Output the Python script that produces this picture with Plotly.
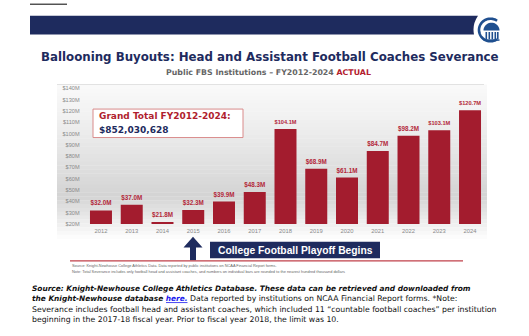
import plotly.graph_objects as go
import math

# ---- data ----
years = ["2012", "2013", "2014", "2015", "2016", "2017", "2018",
         "2019", "2020", "2021", "2022", "2023", "2024"]
severance_musd = [32.0, 37.0, 21.8, 32.3, 39.9, 48.3, 104.1,
                  68.9, 61.1, 84.7, 98.2, 103.1, 120.7]
y_tick_vals = [20, 30, 40, 50, 60, 70, 80, 90, 100, 110, 120, 130, 140]
y_tick_text = ["$20M", "$30M", "$40M", "$50M", "$60M", "$70M", "$80M",
               "$90M", "$100M", "$110M", "$120M", "$130M", "$140M"]
grand_total = "$852,030,628"

W, H = 529, 336
NAVY = "#1e2b5e"
RED = "#a31c2e"


def X(px):
    return px / W


def Y(py):
    return 1 - py / H


fig = go.Figure()
fig.add_trace(go.Bar(
    x=years, y=severance_musd,
    marker=dict(color=RED, line=dict(width=0)),
    texttemplate="$%{y:.1f}M", textposition="outside",
    textfont=dict(family="Liberation Sans", size=6.3, color="#b3283a", weight="bold"),
    cliponaxis=False, hoverinfo="skip",
))

shapes = []
annotations = []

# top-left underline fragment
shapes.append(dict(type="line", xref="paper", yref="paper", x0=X(30), x1=X(67), y0=Y(1.2), y1=Y(1.2),
                   line=dict(color="black", width=1)))

# banner
shapes.append(dict(type="path", xref="paper", yref="paper",
                   path=f"M {X(30)} {Y(13)} L {X(478)} {Y(13)} Q {X(472)} {Y(22)} {X(474)} {Y(32)} L {X(30)} {Y(32)} Z",
                   fillcolor=NAVY, line=dict(width=0)))

# logo
LOGO = "#1f4f8f"
cx, cy, r = 490.5, 27.5, 11.5
pts = []
for k in range(0, 41):
    a = math.radians(55 + k * 250 / 40)
    pts.append((cx + r * math.cos(a), cy - r * math.sin(a)))
arc = "M " + " L ".join(f"{X(p[0])} {Y(p[1])}" for p in pts)
shapes.append(dict(type="path", xref="paper", yref="paper", path=arc,
                   line=dict(color=LOGO, width=2.6)))
# dome
dpts = []
for k in range(0, 21):
    a = math.radians(k * 180 / 20)
    dpts.append((cx + 1 + 8 * math.cos(a), cy - 8 * math.sin(a) + 0.5))
dome = "M " + " L ".join(f"{X(p[0])} {Y(p[1])}" for p in dpts) + " Z"
shapes.append(dict(type="path", xref="paper", yref="paper", path=dome,
                   fillcolor=LOGO, line=dict(width=0)))
for cxp in [485.5, 488.5, 491.5, 494.5, 497.0]:
    shapes.append(dict(type="rect", xref="paper", yref="paper", x0=X(cxp), x1=X(cxp + 1.6),
                       y0=Y(37), y1=Y(29.5), fillcolor=LOGO, line=dict(width=0)))
shapes.append(dict(type="rect", xref="paper", yref="paper", x0=X(483.5), x1=X(499.5),
                   y0=Y(38.5), y1=Y(37), fillcolor=LOGO, line=dict(width=0)))

# chart background gradient
top, bot, nstr = 83, 240, 40
for i in range(nstr):
    y0 = top + (bot - top) * i / nstr
    y1 = top + (bot - top) * (i + 1) / nstr
    t = (i + 0.5) / nstr
    if t < 0.72:
        g = 250 - 38 * (t / 0.72) ** 1.2
    else:
        g = 212 + 42 * ((t - 0.72) / 0.28)
    g = int(min(255, g))
    shapes.append(dict(type="rect", xref="paper", yref="paper", layer="below",
                       x0=X(57), x1=X(487), y0=Y(y1 + 0.3), y1=Y(y0),
                       fillcolor=f"rgb({g},{g},{g})", line=dict(width=0)))
shapes.append(dict(type="line", xref="paper", yref="paper", layer="below",
                   x0=X(57), x1=X(484), y0=Y(83), y1=Y(83), line=dict(color="#e2e2e2", width=1)))

# grand total box
shapes.append(dict(type="rect", xref="paper", yref="paper", x0=X(93), x1=X(243), y0=Y(137), y1=Y(108),
                   fillcolor="white", line=dict(color="#d98a8a", width=1)))
annotations.append(dict(xref="paper", yref="paper", x=X(97), y=Y(115.5), xanchor="left", yanchor="middle",
                        text="Grand Total FY2012-2024:", showarrow=False,
                        font=dict(family="DejaVu Sans", size=9, color="#b01e2e", weight="bold")))
annotations.append(dict(xref="paper", yref="paper", x=X(97), y=Y(129), xanchor="left", yanchor="middle",
                        text=grand_total, showarrow=False,
                        font=dict(family="DejaVu Sans", size=9, color=NAVY, weight="bold")))

# titles
annotations.append(dict(xref="paper", yref="paper", x=X(270), y=Y(54.5), xanchor="center", yanchor="middle",
                        text="Ballooning Buyouts: Head and Assistant Football Coaches Severance", showarrow=False,
                        font=dict(family="DejaVu Sans", size=11.8, color=NAVY, weight="bold")))
annotations.append(dict(xref="paper", yref="paper", x=X(268.5), y=Y(70.5), xanchor="center", yanchor="middle",
                        text="Public FBS Institutions – FY2012-2024 <span style='color:#b3202e'>ACTUAL</span>",
                        showarrow=False,
                        font=dict(family="DejaVu Sans", size=7.85, color="#666666", weight="bold")))

# playoff arrow + box
shapes.append(dict(type="path", xref="paper", yref="paper",
                   path=(f"M {X(193)} {Y(238)} L {X(202.5)} {Y(249)} L {X(196)} {Y(249)} L {X(196)} {Y(262)} "
                         f"L {X(190)} {Y(262)} L {X(190)} {Y(249)} L {X(183.5)} {Y(249)} Z"),
                   fillcolor=NAVY, line=dict(width=0)))
shapes.append(dict(type="rect", xref="paper", yref="paper", x0=X(210), x1=X(380), y0=Y(260), y1=Y(243),
                   fillcolor=NAVY, line=dict(width=0)))
annotations.append(dict(xref="paper", yref="paper", x=X(295), y=Y(251.5), xanchor="center", yanchor="middle",
                        text="College Football Playoff Begins", showarrow=False,
                        font=dict(family="Liberation Sans", size=10.3, color="white", weight="bold")))
shapes.append(dict(type="line", xref="paper", yref="paper", x0=X(70), x1=X(463), y0=Y(262.5), y1=Y(262.5),
                   line=dict(color="#c0404a", width=1.2)))

# small source text
annotations.append(dict(xref="paper", yref="paper", x=X(70), y=Y(267), xanchor="left", yanchor="middle",
                        text="Source: Knight-Newhouse College Athletics Data. Data reported by public institutions on NCAA Financial Report forms.",
                        showarrow=False, font=dict(family="Liberation Sans", size=3.9, color="#666666")))
annotations.append(dict(xref="paper", yref="paper", x=X(70), y=Y(273), xanchor="left", yanchor="middle",
                        text="Note: Total Severance includes only football head and assistant coaches, and numbers on individual bars are rounded to the nearest hundred thousand dollars",
                        showarrow=False, font=dict(family="Liberation Sans", size=3.9, color="#666666")))

# bottom caption
cap_font = dict(family="DejaVu Sans", size=7.75, color="#111111")
BI = "font-size:7.4px"
annotations.append(dict(xref="paper", yref="paper", x=X(30), y=Y(290.7), xanchor="left", yanchor="middle",
                        text=f"<span style='{BI}'><b><i>Source: Knight-Newhouse College Athletics Database. These data can be retrieved and downloaded from</i></b></span>",
                        showarrow=False, font=cap_font))
annotations.append(dict(xref="paper", yref="paper", x=X(30), y=Y(301.2), xanchor="left", yanchor="middle",
                        text=(f"<span style='{BI}'><b><i>the Knight-Newhouse database </i></b></span>"
                              f"<span style='{BI};color:#1a1aee'><b><i>here.</i></b></span>"
                              " Data reported by institutions on NCAA Financial Report forms. *Note:"),
                        showarrow=False, font=cap_font))
annotations.append(dict(xref="paper", yref="paper", x=X(30), y=Y(312), xanchor="left", yanchor="middle",
                        text="Severance includes football head and assistant coaches, which included 11 “countable football coaches” per institution",
                        showarrow=False, font=cap_font))
annotations.append(dict(xref="paper", yref="paper", x=X(30), y=Y(322.7), xanchor="left", yanchor="middle",
                        text="beginning in the 2017-18 fiscal year. Prior to fiscal year 2018, the limit was 10.",
                        showarrow=False, font=cap_font))
shapes.append(dict(type="line", xref="paper", yref="paper", x0=X(166), x1=X(187.5), y0=Y(305), y1=Y(305),
                   line=dict(color="#1a1aee", width=0.8)))

fig.update_layout(
    width=W, height=H, margin=dict(l=0, r=0, t=0, b=0),
    paper_bgcolor="white", plot_bgcolor="rgba(0,0,0,0)",
    showlegend=False, bargap=0.285,
    xaxis=dict(domain=[X(85.6), X(485.4)], type="category", showgrid=False, zeroline=False,
               showline=False, ticks="", ticklabelstandoff=2,
               tickfont=dict(family="Liberation Sans", size=5.8, color="#8a8a8a")),
    yaxis=dict(domain=[Y(225), Y(87)], range=[20, 140], tickvals=y_tick_vals, ticktext=y_tick_text,
               showgrid=False, zeroline=False, showline=False, ticks="", ticklabelstandoff=5,
               tickfont=dict(family="Liberation Sans", size=5.6, color="#8a8a8a")),
    shapes=shapes, annotations=annotations,
)

fig.write_html("out.html")
